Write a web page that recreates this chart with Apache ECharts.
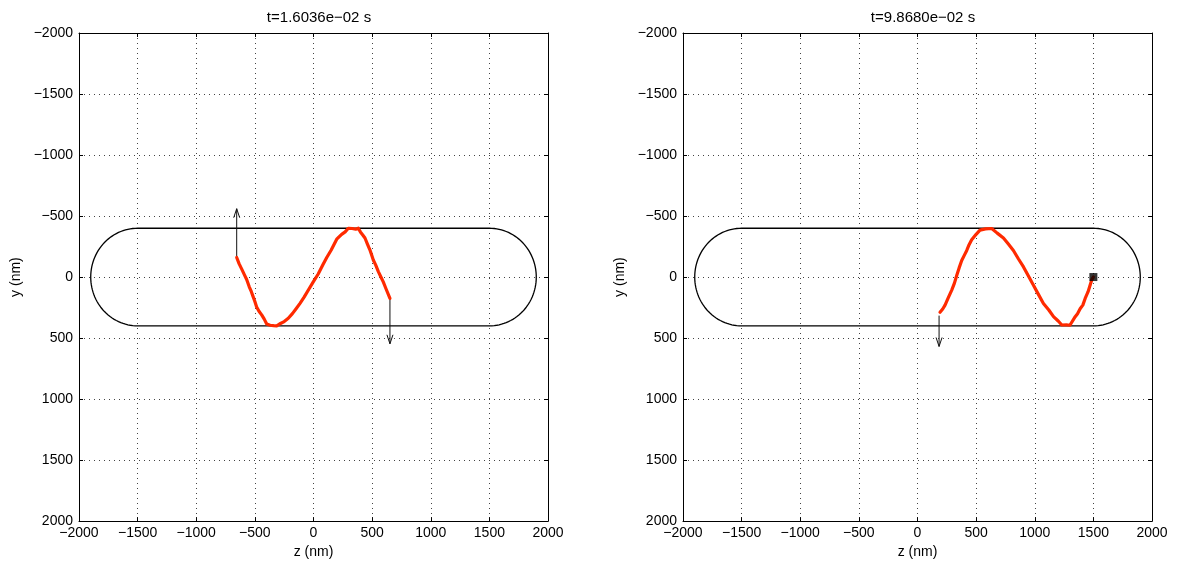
<!DOCTYPE html>
<html>
<head>
<meta charset="utf-8">
<script src="https://cdn.jsdelivr.net/npm/echarts@6/dist/echarts.min.js"></script>
<style>html,body{margin:0;padding:0;background:#fff;}#c{width:1178px;height:564px;}</style>
</head>
<body>
<div id="c"></div>
<script>
// ---- data ----
const titles = ['t=1.6036e\u221202 s', 't=9.8680e\u221202 s'];
const axisMin = -2000, axisMax = 2000, axisStep = 500;
const capsuleHalfLength = 1500;
const capsuleRadius = 400;

const leftCurve = [[-655,-160],[-635,-110],[-612,-65],[-590,-20],[-570,20],[-548,80],[-530,120],[-519,150],[-500,200],[-485,245],[-465,280],[-442,310],[-420,345],[-399,385],[-370,395],[-340,398],[-314,400],[-290,385],[-250,365],[-215,338],[-180,300],[-150,262],[-115,216],[-80,165],[-40,100],[-2,39],[40,-25],[80,-100],[113,-160],[150,-220],[198,-310],[240,-350],[270,-370],[297,-400],[330,-398],[360,-392],[382,-400],[400,-370],[420,-345],[439,-320],[460,-270],[480,-225],[496,-180],[510,-140],[530,-100],[553,-45],[575,0],[595,40],[620,100],[652,175]];
const rightCurve = [[192,289],[215,262],[235,230],[260,175],[292,107],[315,50],[335,-15],[355,-75],[377,-135],[400,-180],[420,-218],[440,-265],[462,-305],[500,-350],[533,-385],[580,-395],[633,-398],[680,-360],[733,-320],[775,-270],[818,-218],[860,-150],[904,-83],[945,-10],[989,67],[1030,140],[1074,216],[1120,270],[1160,324],[1200,360],[1231,393],[1270,392],[1300,395],[1345,325],[1365,300],[1387,260],[1410,230],[1430,175],[1455,120],[1487,20],[1500,0]];
// arrows: [zStart, yStart, zEnd, yEnd]
const leftArrows = [[-655,-165,-655,-560],[652,175,652,547]];
const rightArrows = [[184,316,184,569]];
const rightMarker = [[1500,0]];

// ---- chart ----
const FONT = "'Liberation Sans', Arial, Helvetica, sans-serif";
const fmt = v => String(v).replace('-', '\u2212');
const grids = [
  {left: 79, right: 630, top: 33, bottom: 38},
  {left: 683, right: 26, top: 33, bottom: 38}
];
const xAxes = [], yAxes = [];
grids.forEach((g, i) => {
  xAxes.push({
    type: 'value', gridIndex: i, min: axisMin, max: axisMax, interval: axisStep,
    position: 'bottom', name: 'z (nm)', nameLocation: 'middle', nameGap: 23,
    nameTextStyle: {color: '#000', fontSize: 14, fontFamily: FONT},
    axisLine: {show: true, onZero: false, lineStyle: {color: '#000', width: 1}},
    axisTick: {show: true, inside: true, length: 4, lineStyle: {color: '#000'}},
    axisLabel: {formatter: fmt, color: '#000', fontSize: 14, fontFamily: FONT, margin: 5},
    splitLine: {show: true, lineStyle: {color: '#444', width: 1, type: [1, 4]}}
  });
  xAxes.push({
    type: 'value', gridIndex: i, min: axisMin, max: axisMax, interval: axisStep,
    position: 'top',
    axisLine: {show: true, onZero: false, lineStyle: {color: '#000', width: 1}},
    axisTick: {show: true, inside: true, length: 4, lineStyle: {color: '#000'}},
    axisLabel: {show: false}, splitLine: {show: false}
  });
  yAxes.push({
    type: 'value', gridIndex: i, min: axisMin, max: axisMax, interval: axisStep, inverse: true,
    position: 'left', name: 'y (nm)', nameLocation: 'middle', nameGap: 56, nameRotate: 90,
    nameTextStyle: {color: '#000', fontSize: 14, fontFamily: FONT},
    axisLine: {show: true, onZero: false, lineStyle: {color: '#000', width: 1}},
    axisTick: {show: true, inside: true, length: 4, lineStyle: {color: '#000'}},
    axisLabel: {formatter: fmt, color: '#000', fontSize: 14, fontFamily: FONT, margin: 6},
    splitLine: {show: true, lineStyle: {color: '#444', width: 1, type: [1, 4]}}
  });
  yAxes.push({
    type: 'value', gridIndex: i, min: axisMin, max: axisMax, interval: axisStep, inverse: true,
    position: 'right',
    axisLine: {show: true, onZero: false, lineStyle: {color: '#000', width: 1}},
    axisTick: {show: true, inside: true, length: 4, lineStyle: {color: '#000'}},
    axisLabel: {show: false}, splitLine: {show: false}
  });
});

function capsuleSeries(i) {
  return {
    type: 'custom', xAxisIndex: 2 * i, yAxisIndex: 2 * i, silent: true, z: 3,
    data: [[0, 0]],
    renderItem: function (params, api) {
      const pts = [];
      const L = capsuleHalfLength, R = capsuleRadius;
      pts.push(api.coord([-L, -R]));
      pts.push(api.coord([L, -R]));
      for (let k = 1; k < 60; k++) {
        const a = -Math.PI / 2 + Math.PI * k / 60;
        pts.push(api.coord([L + R * Math.cos(a), R * Math.sin(a)]));
      }
      pts.push(api.coord([L, R]));
      pts.push(api.coord([-L, R]));
      for (let k = 1; k < 60; k++) {
        const a = Math.PI / 2 + Math.PI * k / 60;
        pts.push(api.coord([-L + R * Math.cos(a), R * Math.sin(a)]));
      }
      pts.push(api.coord([-L, -R]));
      return {type: 'polyline', shape: {points: pts}, style: {stroke: '#000', lineWidth: 1.3, fill: null}};
    }
  };
}

function arrowSeries(i, arrows) {
  return {
    type: 'custom', xAxisIndex: 2 * i, yAxisIndex: 2 * i, silent: true, z: 4,
    data: arrows,
    renderItem: function (params, api) {
      const p0 = api.coord([api.value(0), api.value(1)]);
      const p1 = api.coord([api.value(2), api.value(3)]);
      const dx = p1[0] - p0[0], dy = p1[1] - p0[1];
      const len = Math.sqrt(dx * dx + dy * dy);
      const ux = dx / len, uy = dy / len;
      const hl = 9, hw = 3;
      const b = [p1[0] - ux * hl, p1[1] - uy * hl];
      const l = [b[0] - uy * hw, b[1] + ux * hw];
      const r = [b[0] + uy * hw, b[1] - ux * hw];
      const st = {stroke: '#111', lineWidth: 1, fill: null};
      return {type: 'group', children: [
        {type: 'line', shape: {x1: p0[0], y1: p0[1], x2: p1[0], y2: p1[1]}, style: st},
        {type: 'polyline', shape: {points: [l, p1, r]}, style: st}
      ]};
    }
  };
}

function curveSeries(i, data) {
  return {
    type: 'line', xAxisIndex: 2 * i, yAxisIndex: 2 * i, data: data, showSymbol: false, symbol: 'none',
    smooth: false, z: 5, lineStyle: {color: '#ff2a00', width: 3.2, cap: 'round', join: 'round'}, silent: true
  };
}

const series = [
  capsuleSeries(0), capsuleSeries(1),
  curveSeries(0, leftCurve), curveSeries(1, rightCurve),
  arrowSeries(0, leftArrows), arrowSeries(1, rightArrows),
  {type: 'scatter', xAxisIndex: 2, yAxisIndex: 2, data: rightMarker, symbol: 'rect', symbolSize: 8,
   itemStyle: {color: '#000'}, z: 10, zlevel: 0, silent: true}
];

const chart = echarts.init(document.getElementById('c'), null, {renderer: 'canvas'});
chart.setOption({
  animation: false,
  backgroundColor: '#fff',
  title: [
    {text: titles[0], left: 314, top: 5, textAlign: 'center', textStyle: {color: '#000', fontSize: 15, fontWeight: 'normal', fontFamily: FONT}},
    {text: titles[1], left: 918, top: 5, textAlign: 'center', textStyle: {color: '#000', fontSize: 15, fontWeight: 'normal', fontFamily: FONT}}
  ],
  grid: grids,
  xAxis: xAxes,
  yAxis: yAxes,
  series: series
});
</script>
</body>
</html>
